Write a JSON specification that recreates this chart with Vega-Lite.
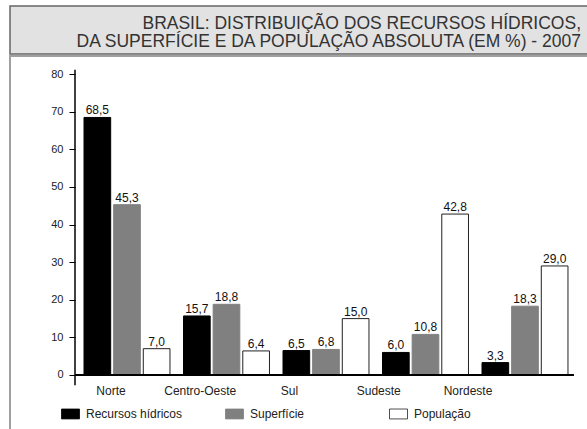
{
  "$schema": "https://vega.github.io/schema/vega-lite/v6.json",
  "padding": {"left": 9, "top": 5, "right": 0, "bottom": 0},
  "background": "white",
  "spacing": 0,
  "config": {
    "font": "Liberation Sans",
    "locale": {"number": {"decimal": ",", "thousands": ".", "grouping": [3], "currency": ["R$", ""]}}
  },
  "vconcat": [
    {
      "width": 578,
      "height": 48,
      "view": {"fill": "#e2e2e2", "stroke": "#666666", "strokeWidth": 1.5},
      "data": {"values": [
        {"line": 1, "t": "BRASIL: DISTRIBUIÇÃO DOS RECURSOS HÍDRICOS,"},
        {"line": 2, "t": "DA SUPERFÍCIE E DA POPULAÇÃO ABSOLUTA (EM %) - 2007"}
      ]},
      "mark": {"type": "text", "align": "right", "baseline": "middle", "dx": -7, "dy": 1, "fontSize": 17.5, "color": "#333333"},
      "encoding": {
        "x": {"datum": 1, "type": "quantitative", "scale": {"domain": [0, 1]}, "axis": null},
        "y": {"field": "line", "type": "ordinal", "scale": {"type": "point", "padding": 0.833, "align": 0.577}, "axis": null},
        "text": {"field": "t"}
      }
    },
    {
      "width": 578,
      "height": 376,
      "view": {"fill": "white", "stroke": "#a0a0a0", "strokeWidth": 2},
      "data": {"values": [
        {"regiao": "Norte", "serie": "Recursos hídricos", "valor": 68.5},
        {"regiao": "Norte", "serie": "Superfície", "valor": 45.3},
        {"regiao": "Norte", "serie": "População", "valor": 7.0},
        {"regiao": "Centro-Oeste", "serie": "Recursos hídricos", "valor": 15.7},
        {"regiao": "Centro-Oeste", "serie": "Superfície", "valor": 18.8},
        {"regiao": "Centro-Oeste", "serie": "População", "valor": 6.4},
        {"regiao": "Sul", "serie": "Recursos hídricos", "valor": 6.5},
        {"regiao": "Sul", "serie": "Superfície", "valor": 6.8},
        {"regiao": "Sul", "serie": "População", "valor": 15.0},
        {"regiao": "Sudeste", "serie": "Recursos hídricos", "valor": 6.0},
        {"regiao": "Sudeste", "serie": "Superfície", "valor": 10.8},
        {"regiao": "Sudeste", "serie": "População", "valor": 42.8},
        {"regiao": "Nordeste", "serie": "Recursos hídricos", "valor": 3.3},
        {"regiao": "Nordeste", "serie": "Superfície", "valor": 18.3},
        {"regiao": "Nordeste", "serie": "População", "valor": 29.0}
      ]},
      "layer": [
        {
          "layer": [
            {
              "mark": {"type": "bar", "strokeWidth": 1},
              "encoding": {
                "x": {"field": "regiao", "type": "nominal", "axis": null,
                      "scale": {"domain": ["Norte", "Centro-Oeste", "Sul", "Sudeste", "Nordeste"], "paddingInner": 0.136, "paddingOuter": 0.4725, "align": 0.787}},
                "xOffset": {"field": "serie", "type": "nominal",
                      "scale": {"domain": ["Recursos hídricos", "Superfície", "População"], "paddingInner": 0.1, "paddingOuter": 0}},
                "y": {"field": "valor", "type": "quantitative",
                      "scale": {"domain": [-15.16, 84.84], "nice": false, "zero": false},
                      "axis": {"title": null, "offset": -65, "domain": false, "grid": false, "values": [0, 10, 20, 30, 40, 50, 60, 70, 80],
                               "tickSize": 6, "tickColor": "#000000", "labelPadding": 6, "labelFontSize": 11, "labelColor": "#222222"}},
                "y2": {"datum": 0},
                "color": {"field": "serie", "type": "nominal",
                      "scale": {"domain": ["Recursos hídricos", "Superfície", "População"], "range": ["#000000", "#808080", "#ffffff"]},
                      "legend": {"title": null, "orient": "none", "legendX": 51, "legendY": 398, "direction": "horizontal", "columns": 3,
                                 "gridAlign": "all", "columnPadding": 40,
                                 "symbolType": "M-1,-0.55H1V0.55H-1Z", "symbolSize": 324, "symbolStrokeColor": "#cccccc", "symbolStrokeWidth": 0.8,
                                 "labelFontSize": 12, "labelColor": "#222222", "labelOffset": 6}},
                "stroke": {"field": "serie", "type": "nominal",
                      "scale": {"domain": ["Recursos hídricos", "Superfície", "População"], "range": ["#000000", "#808080", "#222222"]},
                      "legend": null}
              }
            },
            {
              "mark": {"type": "text", "baseline": "alphabetic", "dy": -3, "fontSize": 12, "color": "#111111"},
              "encoding": {
                "x": {"field": "regiao", "type": "nominal"},
                "xOffset": {"field": "serie", "type": "nominal"},
                "y": {"field": "valor", "type": "quantitative"},
                "text": {"field": "valor", "format": ".1f"}
              }
            },
            {
              "data": {"values": [{}]},
              "mark": {"type": "rule", "color": "#000000", "strokeWidth": 1.5},
              "encoding": {
                "x": {"datum": "Norte", "type": "nominal", "bandPosition": -0.1047},
                "y": {"datum": 81.2, "type": "quantitative"},
                "y2": {"datum": -2.7}
              }
            },
            {
              "data": {"values": [{}]},
              "mark": {"type": "rule", "color": "#000000", "strokeWidth": 2},
              "encoding": {
                "x": {"datum": "Norte", "type": "nominal", "bandPosition": -0.1047},
                "x2": {"datum": "Nordeste", "bandPosition": 1.07},
                "y": {"datum": 0, "type": "quantitative"}
              }
            }
          ]
        },
        {
          "data": {"values": [
            {"regiao": "Norte"}, {"regiao": "Centro-Oeste"}, {"regiao": "Sul"}, {"regiao": "Sudeste"}, {"regiao": "Nordeste"}
          ]},
          "mark": {"type": "text", "baseline": "middle", "fontSize": 12, "color": "#222222"},
          "encoding": {
            "x": {"field": "regiao", "type": "nominal", "axis": null,
                  "scale": {"type": "band", "domain": ["Norte", "Centro-Oeste", "Sul", "Sudeste", "Nordeste"], "paddingInner": 0, "paddingOuter": 0.738, "align": 0.428}},
            "y": {"datum": -4.3, "type": "quantitative"},
            "text": {"field": "regiao"}
          }
        }
      ],
      "resolve": {"scale": {"x": "independent"}}
    }
  ]
}
